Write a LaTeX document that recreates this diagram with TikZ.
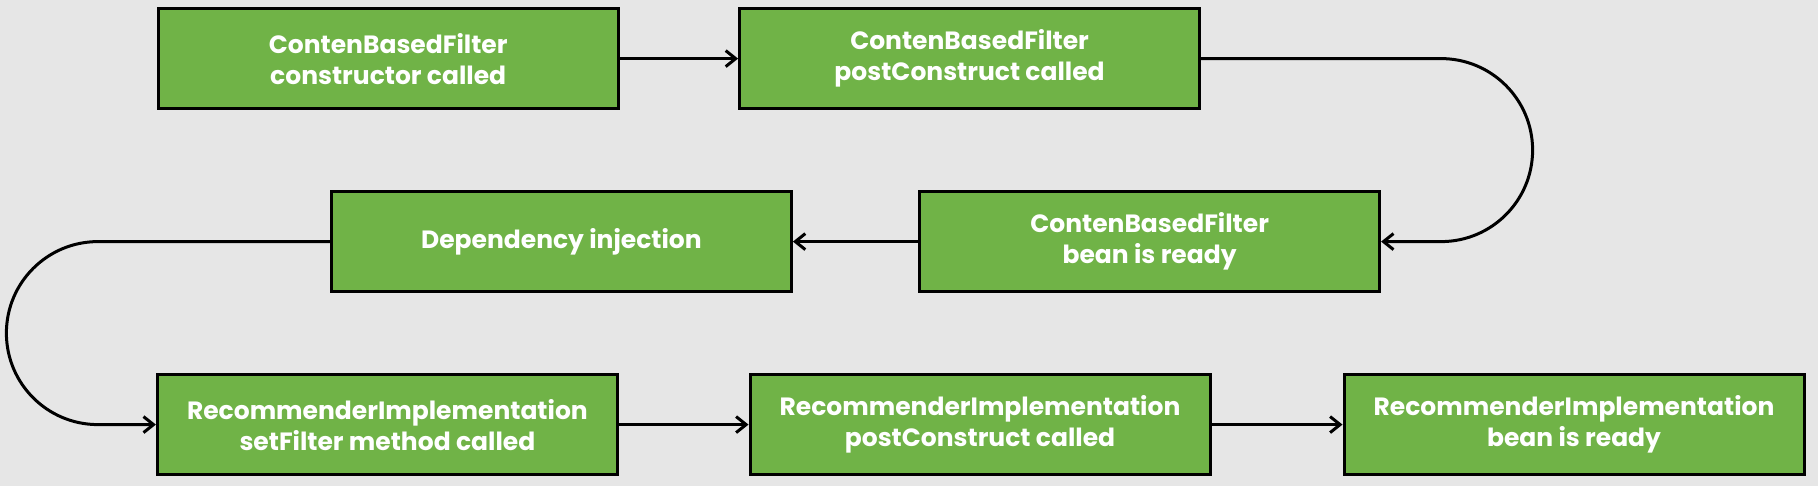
\documentclass[tikz,border=0pt]{standalone}
\usepackage{fontspec}
\setmainfont{Poppins}
\usepackage{xcolor}
\usepackage{tikz}
\usetikzlibrary{arrows.meta}

\definecolor{leaf}{RGB}{112,179,71}
\definecolor{paper}{RGB}{230,230,230}

\begin{document}
\begin{tikzpicture}[node distance=91.5pt, auto]
    % styles
    \tikzset{
        stage/.style = {rectangle, draw=black, line width=1.5pt, fill=leaf, text=white,
                        font=\bfseries\fontsize{12.5}{15.5}\selectfont, align=center,
                        minimum width=230pt, minimum height=50pt},
        line/.style  = {draw, line width=1.5pt, -{Straight Barb[length=5pt, width=8pt]}}
    }

    % background
    \fill [paper] (-194.1pt,29.3pt) rectangle (714.9pt,-213.7pt);

    % ContenBasedFilter
    \node [stage] (ctor) {ContenBasedFilter\\constructor called};
    \node [stage, right of=ctor, xshift=199.2pt] (post) {ContenBasedFilter\\postConstruct called};
    \node [stage, below of=post, xshift=90pt] (ready) {ContenBasedFilter\\bean is ready};
    \node [stage, left of=ready, xshift=-202.6pt] (inject) {Dependency injection};

    % RecommenderImplementation
    \node [stage, below of=inject, xshift=-87pt] (setter) {RecommenderImplementation\\setFilter method called};
    \node [stage, right of=setter, xshift=204.8pt] (rpost) {RecommenderImplementation\\postConstruct called};
    \node [stage, right of=rpost, xshift=205.5pt] (rready) {RecommenderImplementation\\bean is ready};

    % connections
    \path [line] (ctor) -- (post);
    \path [line] (post.east) -- ++(120pt,0) arc [start angle=90, end angle=-90, radius=45.75pt] -- (ready.east);
    \path [line] (ready) -- (inject);
    \path [line] (inject.west) -- ++(-116pt,0) arc [start angle=90, end angle=270, radius=45.75pt] -- (setter.west);
    \path [line] (setter) -- (rpost);
    \path [line] (rpost) -- (rready);
\end{tikzpicture}
\end{document}
